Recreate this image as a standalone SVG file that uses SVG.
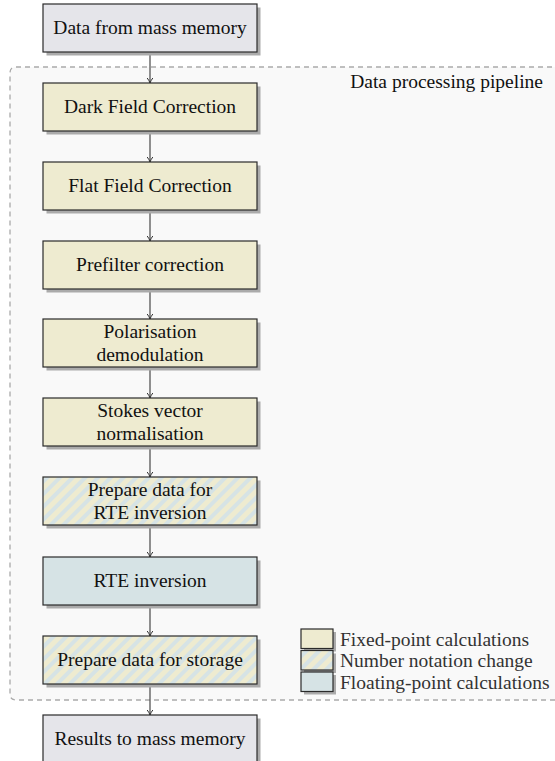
<svg xmlns="http://www.w3.org/2000/svg" width="555" height="761" viewBox="0 0 555 761" font-family="'Liberation Serif', 'Times New Roman', serif">
  <style>
    text { font-family: "Liberation Serif", "Times New Roman", serif; font-size: 19.5px; fill: #111; }
    text.nl { font-family: "Liberation Serif", "Times New Roman", serif; text-anchor: middle; }
    text.leg { font-family: "Liberation Serif", "Times New Roman", serif; fill: #333; }
    .shadow { fill: #ababab; }
    .box { stroke: #2a2a2a; stroke-width: 1.2; }
    .io { fill: #e5e5ea; }
    .fixed { fill: #eeebd0; }
    .float { fill: #d6e3e5; }
    .mixed { fill: url(#hatch); }
    .conn { stroke: #555; stroke-width: 1.3; fill: none; marker-end: url(#arr); }
  </style>
  <defs>
    <pattern id="hatch" patternUnits="userSpaceOnUse" width="9" height="9" patternTransform="rotate(45)">
      <rect width="9" height="9" fill="#eeebd0"/>
      <rect width="4" height="9" fill="#d6e3e5"/>
    </pattern>
    <marker id="arr" markerWidth="8" markerHeight="8" refX="6" refY="4" orient="auto" markerUnits="userSpaceOnUse">
      <path d="M1,1.2 Q4,3.4 6,4 Q4,4.6 1,6.8" fill="none" stroke="#333" stroke-width="1"/>
    </marker>
  </defs>

  <rect width="555" height="761" fill="#ffffff"/>

  <g id="pipeline">
    <path d="M570,67 H16 Q10,67 10,73 V694 Q10,700 16,700 H570" fill="#f9f9f9" stroke="#aaa" stroke-width="1.3" stroke-dasharray="5,4"/>
    <text x="543" y="88" text-anchor="end" font-family="'Liberation Serif', serif">Data processing pipeline</text>
  </g>

  <g id="connectors">
    <line class="conn" x1="150" y1="52" x2="150" y2="83"/>
    <line class="conn" x1="150" y1="131" x2="150" y2="162"/>
    <line class="conn" x1="150" y1="210" x2="150" y2="241"/>
    <line class="conn" x1="150" y1="289" x2="150" y2="319"/>
    <line class="conn" x1="150" y1="367" x2="150" y2="398"/>
    <line class="conn" x1="150" y1="446" x2="150" y2="477"/>
    <line class="conn" x1="150" y1="525" x2="150" y2="557"/>
    <line class="conn" x1="150" y1="605" x2="150" y2="636"/>
    <line class="conn" x1="150" y1="684" x2="150" y2="715"/>
  </g>

  <g id="n-input" font-family="'Liberation Serif', serif">
    <rect class="shadow" x="46.5" y="7.5" width="214" height="48"/>
    <rect class="box io" x="43" y="4" width="214" height="48"/>
    <text class="nl" x="150" y="33.5">Data from mass memory</text>
  </g>
  <g id="n-dark" font-family="'Liberation Serif', serif">
    <rect class="shadow" x="46.5" y="86.5" width="214" height="48"/>
    <rect class="box fixed" x="43" y="83" width="214" height="48"/>
    <text class="nl" x="150" y="112.5">Dark Field Correction</text>
  </g>
  <g id="n-flat" font-family="'Liberation Serif', serif">
    <rect class="shadow" x="46.5" y="165.5" width="214" height="48"/>
    <rect class="box fixed" x="43" y="162" width="214" height="48"/>
    <text class="nl" x="150" y="191.5">Flat Field Correction</text>
  </g>
  <g id="n-prefilter" font-family="'Liberation Serif', serif">
    <rect class="shadow" x="46.5" y="244.5" width="214" height="48"/>
    <rect class="box fixed" x="43" y="241" width="214" height="48"/>
    <text class="nl" x="150" y="270.5">Prefilter correction</text>
  </g>
  <g id="n-demod" font-family="'Liberation Serif', serif">
    <rect class="shadow" x="46.5" y="322.5" width="214" height="48"/>
    <rect class="box fixed" x="43" y="319" width="214" height="48"/>
    <text class="nl" x="150" y="338">Polarisation</text>
    <text class="nl" x="150" y="360.5">demodulation</text>
  </g>
  <g id="n-stokes" font-family="'Liberation Serif', serif">
    <rect class="shadow" x="46.5" y="401.5" width="214" height="48"/>
    <rect class="box fixed" x="43" y="398" width="214" height="48"/>
    <text class="nl" x="150" y="417">Stokes vector</text>
    <text class="nl" x="150" y="439.5">normalisation</text>
  </g>
  <g id="n-prep-rte" font-family="'Liberation Serif', serif">
    <rect class="shadow" x="46.5" y="480.5" width="214" height="48"/>
    <rect class="box mixed" x="43" y="477" width="214" height="48"/>
    <text class="nl" x="150" y="496">Prepare data for</text>
    <text class="nl" x="150" y="518.5">RTE inversion</text>
  </g>
  <g id="n-rte" font-family="'Liberation Serif', serif">
    <rect class="shadow" x="46.5" y="560.5" width="214" height="48"/>
    <rect class="box float" x="43" y="557" width="214" height="48"/>
    <text class="nl" x="150" y="586.5">RTE inversion</text>
  </g>
  <g id="n-prep-store" font-family="'Liberation Serif', serif">
    <rect class="shadow" x="46.5" y="639.5" width="214" height="48"/>
    <rect class="box mixed" x="43" y="636" width="214" height="48"/>
    <text class="nl" x="150" y="665.5">Prepare data for storage</text>
  </g>
  <g id="n-output" font-family="'Liberation Serif', serif">
    <rect class="shadow" x="46.5" y="718.5" width="214" height="48"/>
    <rect class="box io" x="43" y="715" width="214" height="48"/>
    <text class="nl" x="150" y="744.5">Results to mass memory</text>
  </g>

  <g id="legend" font-family="'Liberation Serif', serif">
    <rect class="shadow" x="304" y="632" width="32" height="19.5"/>
    <rect class="box fixed" x="301" y="629" width="32" height="19.5"/>
    <text class="leg" x="340" y="645.5">Fixed-point calculations</text>
    <rect class="shadow" x="304" y="653.5" width="32" height="19.5"/>
    <rect class="box mixed" x="301" y="650.5" width="32" height="19.5"/>
    <text class="leg" x="340" y="667">Number notation change</text>
    <rect class="shadow" x="304" y="675" width="32" height="19.5"/>
    <rect class="box float" x="301" y="672" width="32" height="19.5"/>
    <text class="leg" x="340" y="688.5">Floating-point calculations</text>
  </g>
</svg>
